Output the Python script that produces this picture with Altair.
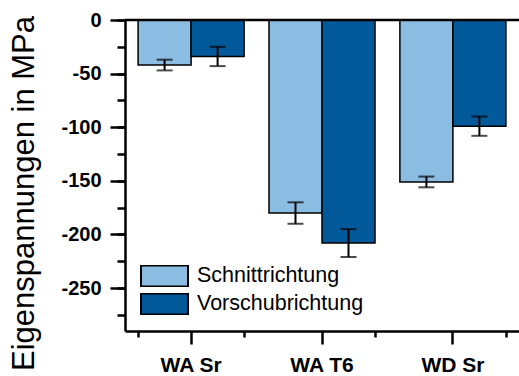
import altair as alt
import pandas as pd

# Residual stresses per specimen condition, measured in two directions
categories = ["WA Sr", "WA T6", "WD Sr"]
directions = ["Schnittrichtung", "Vorschubrichtung"]
schnitt = [-42, -180, -151]
schnitt_err = [5, 10, 5]
vorschub = [-34, -208, -99]
vorschub_err = [9, 13, 9]
colors = ["#8BBDE3", "#02599A"]

major_ticks = [0, -50, -100, -150, -200, -250]
minor_ticks = [0, -25, -50, -75, -100, -125, -150, -175, -200, -225, -250, -275]

rows = []
for i, cat in enumerate(categories):
    for d, vals, errs in ((directions[0], schnitt, schnitt_err), (directions[1], vorschub, vorschub_err)):
        rows.append({"cat": cat, "dir": d, "value": vals[i],
                     "lo": vals[i] - errs[i], "hi": vals[i] + errs[i]})
df = pd.DataFrame(rows)

FONT = "Liberation Sans"
x_scale = alt.Scale(domain=categories, paddingInner=0.19, paddingOuter=0.1)
y_scale = alt.Scale(domain=[-290, 0], nice=False, zero=False)
off_scale = alt.Scale(domain=directions, paddingInner=0, paddingOuter=0)

base = alt.Chart(df)

bars = base.mark_bar(stroke="black", strokeWidth=1.5).encode(
    x=alt.X("cat:N", scale=x_scale, sort=categories,
            axis=alt.Axis(orient="bottom", title=None, labelAngle=0, labelFont=FONT,
                          labelFontSize=21, labelFontWeight="bold", labelColor="black",
                          labelPadding=10, tickSize=13, tickWidth=2.5, tickColor="black",
                          domainColor="black", domainWidth=2.5)),
    xOffset=alt.XOffset("dir:N", scale=off_scale, sort=directions),
    y=alt.Y("value:Q", scale=y_scale,
            axis=alt.Axis(orient="left", values=major_ticks, labelExpr="'' + datum.value",
                          grid=False, labelFont=FONT, labelFontSize=20, labelFontWeight="bold",
                          labelColor="black", labelPadding=9, tickSize=15, tickWidth=2.5,
                          tickColor="black", domainColor="black", domainWidth=2.5,
                          title="Eigenspannungen in MPa", titleFont=FONT, titleFontSize=31,
                          titleFontWeight="normal", titleColor="black", titleAngle=270,
                          titleBaseline="alphabetic", titleAlign="center",
                          titleX=-92, titleY=173)),
    color=alt.Color("dir:N", scale=alt.Scale(domain=directions, range=colors),
                    legend=alt.Legend(orient="none", legendX=15, legendY=245, title=None,
                                      padding=0, symbolType="M-1,-0.447H1V0.447H-1Z",
                                      symbolSize=2209, symbolStrokeColor="black",
                                      symbolStrokeWidth=2, symbolOpacity=1,
                                      clipHeight=22, rowPadding=6, labelLimit=400,
                                      labelFont=FONT, labelFontSize=21.5, labelColor="black",
                                      labelOffset=8)),
)

# error bar stems, which also carry the minor tick axes
stems = base.mark_rule(color="black", strokeWidth=2).encode(
    x=alt.X("cat:N", scale=x_scale, sort=categories,
            axis=alt.Axis(orient="bottom", title=None, labels=False, domain=False,
                          tickBand="extent", tickSize=6, tickWidth=2.5, tickColor="black")),
    xOffset=alt.XOffset("dir:N", scale=off_scale, sort=directions),
    y=alt.Y("lo:Q", scale=y_scale,
            axis=alt.Axis(orient="left", values=minor_ticks, title=None, labels=False,
                          domain=False, grid=False, tickSize=8, tickWidth=2.5,
                          tickColor="black")),
    y2="hi:Q",
)

caps_lo = base.mark_tick(color="black", size=16, thickness=2).encode(
    x=alt.X("cat:N", scale=x_scale, sort=categories, axis=None),
    xOffset=alt.XOffset("dir:N", scale=off_scale, sort=directions),
    y=alt.Y("lo:Q", scale=y_scale, axis=None),
)
caps_hi = base.mark_tick(color="black", size=16, thickness=2).encode(
    x=alt.X("cat:N", scale=x_scale, sort=categories, axis=None),
    xOffset=alt.XOffset("dir:N", scale=off_scale, sort=directions),
    y=alt.Y("hi:Q", scale=y_scale, axis=None),
)

zero_line = alt.Chart(pd.DataFrame({"z": [0]})).mark_rule(color="black", strokeWidth=2.5).encode(
    y=alt.Y("z:Q", scale=y_scale, axis=None)
)

chart = (
    alt.layer(bars, stems, caps_lo, caps_hi, zero_line)
    .resolve_axis(x="independent", y="independent")
    .properties(width=394, height=311,
                autosize=alt.AutoSizeParams(type="none"),
                padding={"left": 125, "top": 20, "right": 0, "bottom": 45})
    .configure_view(stroke=None)
    .configure(font=FONT)
)

chart.save("out.html", embed_options={"renderer": "svg", "actions": False})
